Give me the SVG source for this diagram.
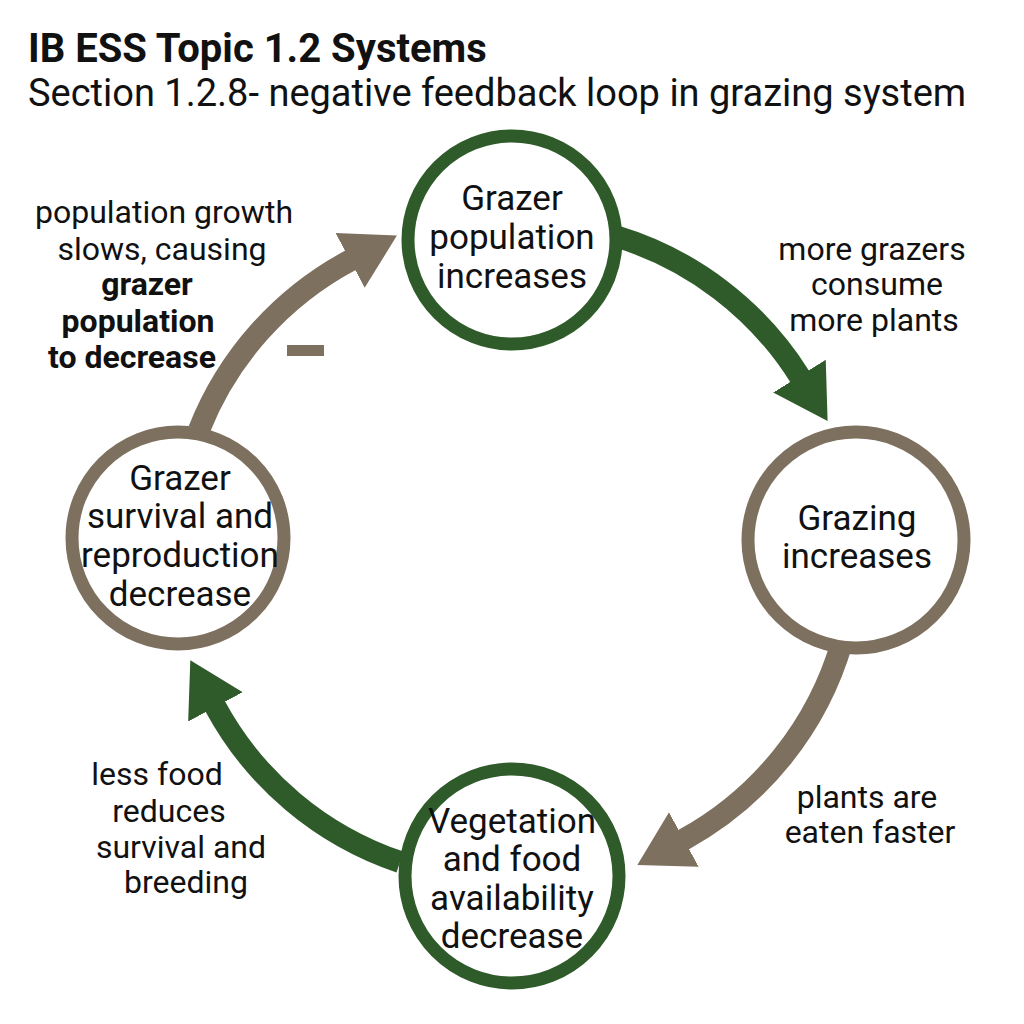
<svg xmlns="http://www.w3.org/2000/svg" width="1024" height="1024" viewBox="0 0 1024 1024">
<style>
text{font-family:Roboto,"Liberation Sans",sans-serif;fill:#111;}
.title{font-size:40px;font-weight:bold;}
.sub{font-size:38px;}
.node{font-size:35px;text-anchor:middle;}
.lbl{font-size:32px;text-anchor:middle;}
.b{font-weight:bold;font-size:32px;}
.ring-g{fill:#fff;stroke:#2f5a2a;stroke-width:13;}
.ring-b{fill:#fff;stroke:#7e705f;stroke-width:13;}
.shaft-g{fill:none;stroke:#2f5a2a;stroke-width:22;}
.shaft-b{fill:none;stroke:#7e705f;stroke-width:22;}
</style>
<defs>
<marker id="hg" markerUnits="userSpaceOnUse" markerWidth="56" markerHeight="64" refX="1" refY="32" orient="auto"><path d="M0,1 L53,32 L0,63 Z" fill="#2f5a2a"/></marker>
<marker id="hb" markerUnits="userSpaceOnUse" markerWidth="56" markerHeight="64" refX="1" refY="32" orient="auto"><path d="M0,1 L53,32 L0,63 Z" fill="#7e705f"/></marker>
</defs>
<rect width="1024" height="1024" fill="#fff"/>
<text class="title" x="28" y="62">IB ESS Topic 1.2 Systems</text>
<text class="sub" x="28" y="106">Section 1.2.8- negative feedback loop in grazing system</text>
<g id="connectors">
<path class="shaft-g" d="M 615 236 A 330 330 0 0 1 800 377" marker-end="url(#hg)"/>
<path class="shaft-b" d="M 842 642 A 330 330 0 0 1 683 840" marker-end="url(#hb)"/>
<path class="shaft-g" d="M 400 862 A 330 330 0 0 1 215 706" marker-end="url(#hg)"/>
<path class="shaft-b" d="M 199 430 A 330 330 0 0 1 351 260" marker-end="url(#hb)"/>
<rect x="287" y="345" width="37" height="11" fill="#7e705f"/>
</g>
<g id="node-top">
<circle class="ring-g" cx="512" cy="240" r="104"/>
<text class="node" x="512" y="210">Grazer</text>
<text class="node" x="512" y="249">population</text>
<text class="node" x="512" y="288">increases</text>
</g>
<g id="node-right">
<circle class="ring-b" cx="856" cy="540" r="108"/>
<text class="node" x="857" y="530">Grazing</text>
<text class="node" x="857" y="568">increases</text>
</g>
<g id="node-bottom">
<circle class="ring-g" cx="512" cy="876" r="107"/>
<text class="node" x="512" y="833">Vegetation</text>
<text class="node" x="512" y="871">and food</text>
<text class="node" x="512" y="910">availability</text>
<text class="node" x="512" y="948">decrease</text>
</g>
<g id="node-left">
<circle class="ring-b" cx="178" cy="538" r="106"/>
<text class="node" x="180" y="490">Grazer</text>
<text class="node" x="180" y="528">survival and</text>
<text class="node" x="180" y="567">reproduction</text>
<text class="node" x="180" y="606">decrease</text>
</g>
<g id="labels">
<text class="lbl" x="164" y="223">population growth</text>
<text class="lbl" x="162" y="260">slows, causing</text>
<text class="lbl b" x="147" y="295">grazer</text>
<text class="lbl b" x="138" y="332">population</text>
<text class="lbl b" x="132" y="368">to decrease</text>
<text class="lbl" x="872" y="260">more grazers</text>
<text class="lbl" x="877" y="295">consume</text>
<text class="lbl" x="874" y="331">more plants</text>
<text class="lbl" x="867" y="808">plants are</text>
<text class="lbl" x="870" y="843">eaten faster</text>
<text class="lbl" x="157" y="785">less food</text>
<text class="lbl" x="169" y="822">reduces</text>
<text class="lbl" x="181" y="858">survival and</text>
<text class="lbl" x="186" y="893">breeding</text>
</g>
</svg>
